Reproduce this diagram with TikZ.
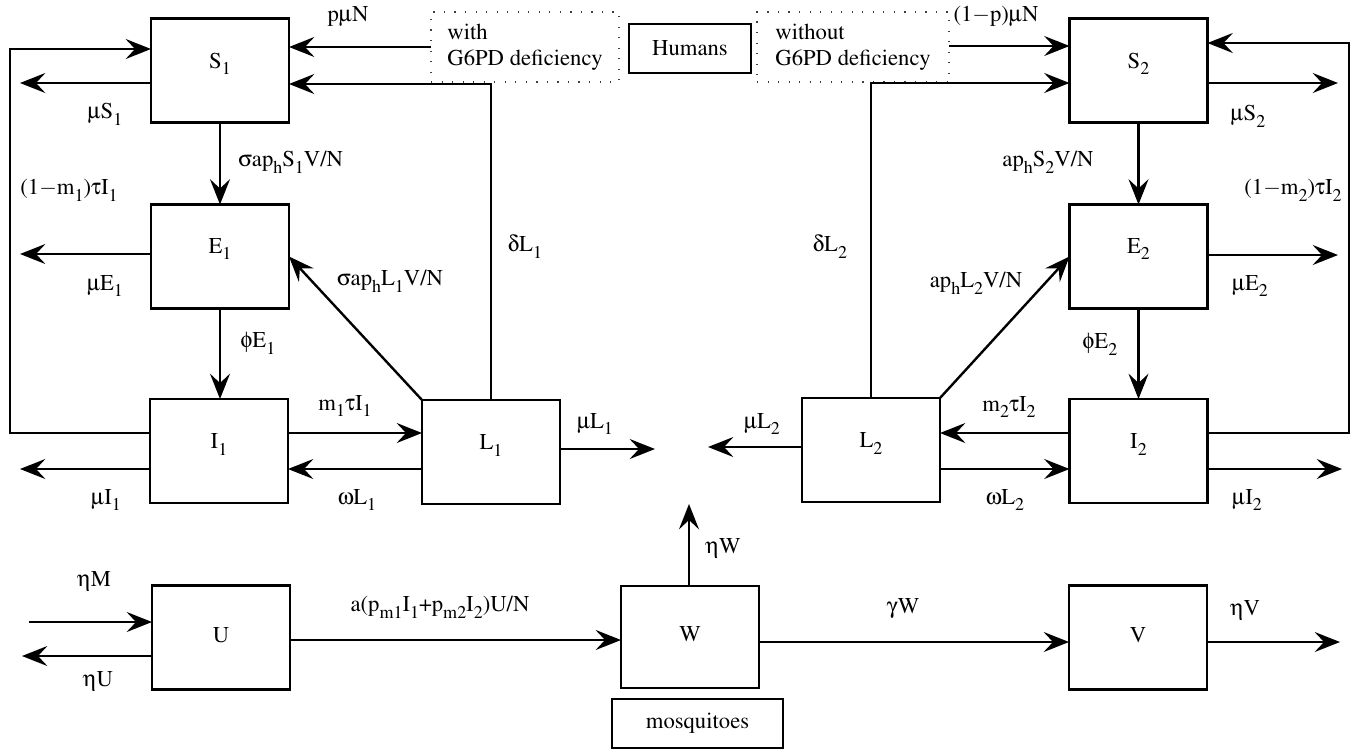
\documentclass[tikz,border=0pt]{standalone}
\usepackage[T1]{fontenc}
\usepackage{mathptmx}
\usepackage[Symbol]{upgreek}
\usetikzlibrary{arrows.meta,calc}
\newcommand\dn[1]{\raisebox{-5pt}{\fontsize{13.5}{14}\selectfont #1}}
\newcommand\g[1]{\ensuremath{#1}}
\newcommand\mn{\ensuremath{-}}
\begin{document}
\begin{tikzpicture}[x=0.75pt,y=-0.75pt,
  box/.style={draw, line width=1.9pt, minimum width=103.5pt, minimum height=78pt, inner sep=0pt, outer sep=0pt},
  boxname/.style={font=\fontsize{17}{20}\selectfont, inner sep=0pt},
  lbl/.style={font=\fontsize{17}{20}\selectfont, inner sep=0pt},
  tagbox/.style={draw, line width=1.9pt, inner sep=0pt, outer sep=0pt, font=\fontsize{17}{20}\selectfont},
  dotbox/.style={draw=black!75, line width=1.1pt, dash pattern=on 0.9pt off 7pt, inner sep=0pt, outer sep=0pt,
    minimum height=52.5pt, align=left, font=\fontsize{17}{19.5}\selectfont},
  flow/.style={line width=1.8pt, -{Stealth[length=19pt,width=15pt,inset=7pt]}},
  plain/.style={line width=1.8pt}
]
\useasboundingbox (0,0) rectangle (1359,754);

% compartments
\node[box] (S1) at (220,70.5) {};
\node[box] (E1) at (220,256.5) {};
\node[box] (I1) at (219,451) {};
\node[box] (L1) at (491,452) {};
\node[box] (S2) at (1138.5,70.5) {};
\node[box] (E2) at (1138.5,256.5) {};
\node[box] (I2) at (1138.5,451) {};
\node[box] (L2) at (871,450) {};
\node[box] (U) at (221,637.5) {};
\node[box, minimum height=76.5pt] (W) at (690,637) {};
\node[box] (V) at (1138,637.5) {};

\node[boxname] (S1t) at ([yshift=5pt]S1.center) {S\dn{1}};
\node[boxname] (E1t) at ([yshift=5.5pt]E1.center) {E\dn{1}};
\node[boxname] (I1t) at ([yshift=5pt]I1.center) {I\dn{1}};
\node[boxname] (L1t) at ([yshift=5pt]L1.center) {L\dn{1}};
\node[boxname] (S2t) at ([yshift=5pt]S2.center) {S\dn{2}};
\node[boxname] (E2t) at ([yshift=5.5pt]E2.center) {E\dn{2}};
\node[boxname] (I2t) at ([yshift=5pt]I2.center) {I\dn{2}};
\node[boxname] (L2t) at ([yshift=5pt]L2.center) {L\dn{2}};
\node[boxname] (Ut) at ([yshift=2pt]U.center) {U};
\node[boxname] (Wt) at ([yshift=2pt]W.center) {W};
\node[boxname] (Vt) at ([yshift=2pt]V.center) {V};

% headings
\node[tagbox, minimum width=91.5pt, minimum height=37pt] (hum) at (690,48.5) {Humans};
\node[tagbox, minimum width=128pt, minimum height=37pt] (mos) at (697.5,723.5) {mosquitoes};
\node[dotbox, minimum width=141pt] (with) at (525,47) {with\\G6PD deficiency};
\node[dotbox, minimum width=144pt] (without) at (853,47) {without\\G6PD deficiency};

% free ends
\coordinate (oS1) at (20,83);
\coordinate (oE1) at (20,254);
\coordinate (oI1) at (20,469);
\coordinate (oL1) at (655,449);
\coordinate (oS2) at (1338,83);
\coordinate (oE2) at (1338,255);
\coordinate (oI2) at (1342,469);
\coordinate (oL2) at (708,447);
\coordinate (iM) at (29,622);
\coordinate (oU) at (22,656);
\coordinate (oV) at (1340,642);
\coordinate (oW) at (689,504);
\coordinate (lp1) at (10,433);
\coordinate (lp2) at (1349,433);

% left group
\draw[flow] (I1.west |- lp1) -- (lp1) |- (S1.west |- 0,49);
\draw[flow] (S1.west |- oS1) -- (oS1);
\draw[flow] (with.west |- 0,47) -- (S1.east |- 0,47);
\draw[flow] (L1.north) |- (S1.east |- 0,84);
\draw[flow] (S1.south) -- (E1.north);
\draw[flow] (E1.west |- oE1) -- (oE1);
\draw[flow] (E1.south) -- (E1.south |- I1.north);
\draw[flow] (L1.north west) -- (E1.east);
\draw[flow] (I1.east |- 0,433) -- (L1.west |- 0,433);
\draw[flow] (L1.west |- 0,469) -- (I1.east |- 0,469);
\draw[flow] (I1.west |- oI1) -- (oI1);
\draw[flow] (L1.east |- oL1) -- (oL1);

% right group
\draw[flow] (without.east |- 0,46) -- (S2.west |- 0,46);
\draw[flow] (L2.north) |- (S2.west |- 0,83);
\draw[flow] (I2.east |- lp2) -- (lp2) |- (S2.east |- 0,43);
\draw[flow] (S2.east |- oS2) -- (oS2);
\draw[flow] (S2.south) -- (E2.north);
\draw[flow] (E2.east |- oE2) -- (oE2);
\draw[flow] (E2.south) -- (I2.north);
\draw[flow] (L2.north east) -- (E2.west);
\draw[flow] (I2.west |- 0,433) -- (L2.east |- 0,433);
\draw[flow] (L2.east |- 0,469) -- (I2.west |- 0,469);
\draw[flow] (I2.east |- oI2) -- (oI2);
\draw[flow] (L2.west |- oL2) -- (oL2);

% mosquitoes
\draw[flow] (iM) -- (U.west |- iM);
\draw[flow] (U.west |- oU) -- (oU);
\draw[flow] (U.east |- 0,640) -- (W.west |- 0,640);
\draw[flow] (W.east |- 0,642) -- (V.west |- 0,642);
\draw[flow] (V.east |- oV) -- (oV);
\draw[flow] (W.north -| oW) -- (oW);

% rate labels
\node[lbl] (l1) at (348,17) {p\g{\upmu}N};
\node[lbl] (l2) at (105,114) {\g{\upmu}S\dn{1}};
\node[lbl, anchor=west] (l3) at (238,162) {\g{\upsigma}ap\dn{h}S\dn{1}V/N};
\node[lbl] (l4) at (69,190) {(1\mn m\dn{1})\g{\uptau}I\dn{1}};
\node[lbl] (l5) at (105,286) {\g{\upmu}E\dn{1}};
\node[lbl] (l6) at (258,343) {\g{\upphi}E\dn{1}};
\node[lbl] (l7) at (390,281) {\g{\upsigma}ap\dn{h}L\dn{1}V/N};
\node[lbl] (l8) at (525,247) {\g{\updelta}L\dn{1}};
\node[lbl] (l9) at (345,406) {m\dn{1}\g{\uptau}I\dn{1}};
\node[lbl] (l10) at (106,500) {\g{\upmu}I\dn{1}};
\node[lbl] (l11) at (357,500) {\g{\upomega}L\dn{1}};
\node[lbl] (l12) at (595,424) {\g{\upmu}L\dn{1}};
\node[lbl] (l13) at (762,424) {\g{\upmu}L\dn{2}};
\node[lbl] (l14) at (723,548) {\g{\upeta}W};
\node[lbl] (l15) at (830,247) {\g{\updelta}L\dn{2}};
\node[lbl] (l16) at (976,283) {ap\dn{h}L\dn{2}V/N};
\node[lbl] (l17) at (1048,162) {ap\dn{h}S\dn{2}V/N};
\node[lbl] (l18) at (996,16) {(1\mn p)\g{\upmu}N};
\node[lbl] (l19) at (1248,116) {\g{\upmu}S\dn{2}};
\node[lbl] (l20) at (1293,190) {(1\mn m\dn{2})\g{\uptau}I\dn{2}};
\node[lbl] (l21) at (1250,286) {\g{\upmu}E\dn{2}};
\node[lbl] (l22) at (1100,344) {\g{\upphi}E\dn{2}};
\node[lbl] (l23) at (1009,407) {m\dn{2}\g{\uptau}I\dn{2}};
\node[lbl] (l24) at (1005,500) {\g{\upomega}L\dn{2}};
\node[lbl] (l25) at (1247,500) {\g{\upmu}I\dn{2}};
\node[lbl] (l26) at (94,581) {\g{\upeta}M};
\node[lbl] (l27) at (98,681) {\g{\upeta}U};
\node[lbl] (l28) at (440,607) {a(p\dn{m1}I\dn{1}+p\dn{m2}I\dn{2})U/N};
\node[lbl] (l29) at (903,609) {\g{\upgamma}W};
\node[lbl] (l30) at (1245,610) {\g{\upeta}V};
\end{tikzpicture}
\end{document}
